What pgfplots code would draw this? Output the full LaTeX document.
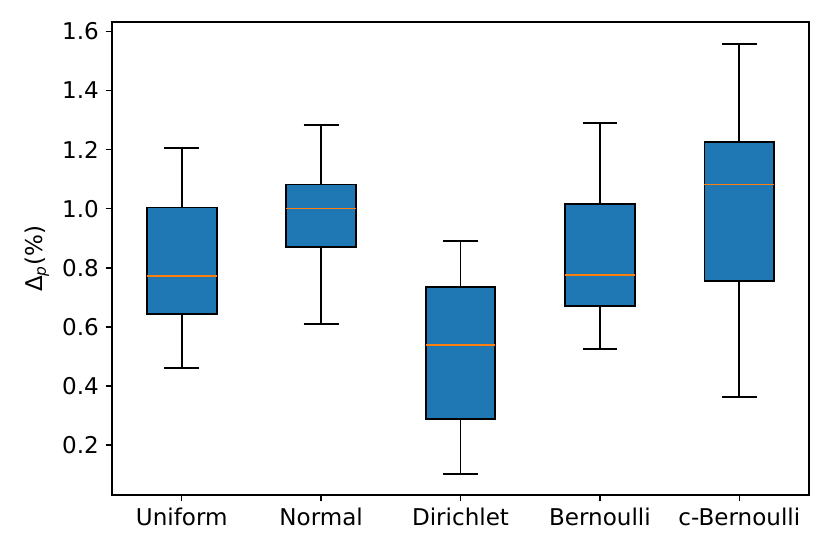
\documentclass[border=0pt]{standalone}
\usepackage{fontspec}
\setmainfont{DejaVu Sans}
\usepackage{pgfplots}
\pgfplotsset{compat=1.18}
\usepgfplotslibrary{statistics}
\definecolor{mplblue}{HTML}{1F77B4}
\definecolor{mplorange}{HTML}{FF7F0E}

\pgfplotsset{
  mplbox/.style={
    fill=mplblue, draw=black, line width=1pt, solid, mark=none,
    boxplot/draw direction=y,
    boxplot/every box/.style={fill=mplblue, draw=black, line width=1pt},
    boxplot/every whisker/.style={draw=black, line width=1pt},
    boxplot/every median/.style={draw=mplorange, line width=0.9pt},
    boxplot/box extend=0.5,
    boxplot/whisker extend=0.25,
  },
}

\begin{document}
\begin{tikzpicture}
\begin{axis}[
  scale only axis,
  width=362.8pt, height=246.2pt,
  xmin=0.5, xmax=5.5,
  ymin=0.030, ymax=1.632,
  xtick={1,2,3,4,5},
  xticklabels={Uniform,Normal,Dirichlet,Bernoulli,c-Bernoulli},
  ytick={0.2,0.4,0.6,0.8,1.0,1.2,1.4,1.6},
  yticklabel style={/pgf/number format/.cd,fixed,fixed zerofill,precision=1},
  /pgf/number format/assume math mode=true,
  tick align=outside,
  tick pos=left,
  major tick length=3.3pt,
  major tick style={line width=0.8pt, black},
  axis line style={line width=0.8pt},
  ticklabel style={font=\fontsize{12}{14}\selectfont},
  ylabel={Δ\textsubscript{\textit{p}}(\%)},
  ylabel style={font=\fontsize{12}{14}\selectfont},
]
% Uniform
\addplot+[mplbox, boxplot prepared={draw position=1,
  lower whisker=0.460, lower quartile=0.643, median=0.773,
  upper quartile=1.004, upper whisker=1.207}] coordinates {};
% Normal
\addplot+[mplbox, boxplot prepared={draw position=2,
  lower whisker=0.608, lower quartile=0.870, median=1.001,
  upper quartile=1.082, upper whisker=1.283}] coordinates {};
% Dirichlet
\addplot+[mplbox, boxplot prepared={draw position=3,
  lower whisker=0.103, lower quartile=0.288, median=0.538,
  upper quartile=0.734, upper whisker=0.891}] coordinates {};
% Bernoulli
\addplot+[mplbox, boxplot prepared={draw position=4,
  lower whisker=0.524, lower quartile=0.670, median=0.775,
  upper quartile=1.017, upper whisker=1.290}] coordinates {};
% c-Bernoulli
\addplot+[mplbox, boxplot prepared={draw position=5,
  lower whisker=0.363, lower quartile=0.756, median=1.082,
  upper quartile=1.226, upper whisker=1.559}] coordinates {};
\end{axis}
\path (-58.3pt,-30.7pt) rectangle (373.7pt,257.7pt);
\end{tikzpicture}
\end{document}
